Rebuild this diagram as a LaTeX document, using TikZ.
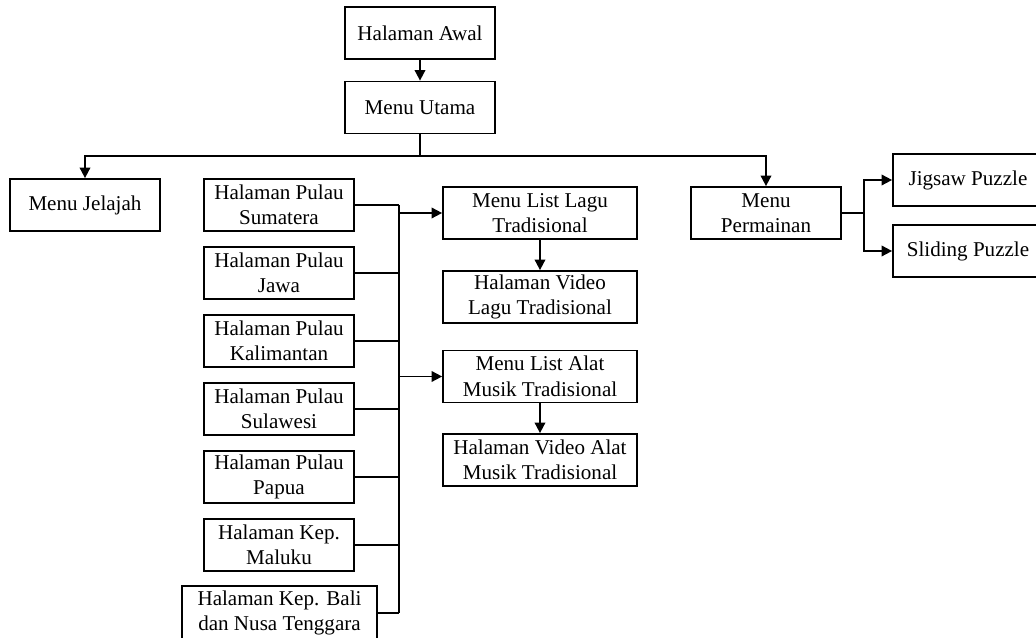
\documentclass[tikz,border=0pt]{standalone}
\usepackage{fontspec}
\setmainfont{Liberation Serif}
\usetikzlibrary{arrows.meta,positioning,calc}

\begin{document}
\begin{tikzpicture}[
	x = 0.02cm,
	y = -0.02cm,
	line width = 1pt,
	>={Triangle[length=6pt, width=6pt]},
	box/.style = {
	  draw,
	  align = center,
	  inner sep = 1pt,
	  minimum width = 3cm,
	  minimum height = 1.04cm,
	  font = \fontsize{12}{14.5}\selectfont},
	widebox/.style = {
	  box,
	  minimum width = 3.88cm}
	]
  \useasboundingbox (0,0) rectangle (1036,638);

  % Top of the menu
  \node[box] (awal) at (420,33) {Halaman Awal};
  \node[box] (utama) at (420,107.5) {Menu Utama};
  \coordinate (bus) at (420,156);

  % Main branches
  \node[box] (jelajah) at (85,205) {Menu Jelajah};
  \node[box] (permainan) at (766,213) {Menu\\Permainan};

  % Island pages
  \node[box] (sumatera) at (279,205) {Halaman Pulau\\Sumatera};
  \node[box] (jawa) at (279,273) {Halaman Pulau\\Jawa};
  \node[box] (kalimantan) at (279,341) {Halaman Pulau\\Kalimantan};
  \node[box] (sulawesi) at (279,409) {Halaman Pulau\\Sulawesi};
  \node[box] (papua) at (279,477) {Halaman Pulau\\Papua};
  \node[box] (maluku) at (279,545) {Halaman Kep.\\Maluku};
  \node[box, minimum width=3.9cm, minimum height=1.08cm] (bali) at (279.5,613) {Halaman Kep. Bali\\dan Nusa Tenggara};

  % Song and instrument lists
  \node[widebox] (lagu) at (540,213) {Menu List Lagu\\Tradisional};
  \node[widebox] (vlagu) at (540,297) {Halaman Video\\Lagu Tradisional};
  \node[widebox] (alat) at (540,376.5) {Menu List Alat\\Musik Tradisional};
  \node[widebox] (valat) at (540,460) {Halaman Video Alat\\Musik Tradisional};

  % Games
  \node[box] (jigsaw) at (968,180) {Jigsaw Puzzle};
  \node[box] (sliding) at (968,251) {Sliding Puzzle};

  % Connectors
  \draw[->] (awal) -- (utama);
  \draw (utama) -- (bus);
  \draw[->] (bus) -| (jelajah);
  \draw[->] (bus) -| (permainan);

  \coordinate (ptop) at (399,205);
  \draw (ptop) -- (ptop |- bali.east);
  \foreach \pulau in {sumatera,jawa,kalimantan,sulawesi,papua,maluku,bali}
    \draw (\pulau.east) -- (\pulau.east -| ptop);

  \draw[->] (lagu.west -| ptop) -- (lagu.west);
  \draw[->] (alat.west -| ptop) -- (alat.west);
  \draw[->] (lagu) -- (vlagu);
  \draw[->] (alat) -- (valat);

  \draw (permainan.east) -- ++(22,0) coordinate (pj);
  \draw[->] (pj) |- (jigsaw.west);
  \draw[->] (pj) |- (sliding.west);

\end{tikzpicture}
\end{document}
